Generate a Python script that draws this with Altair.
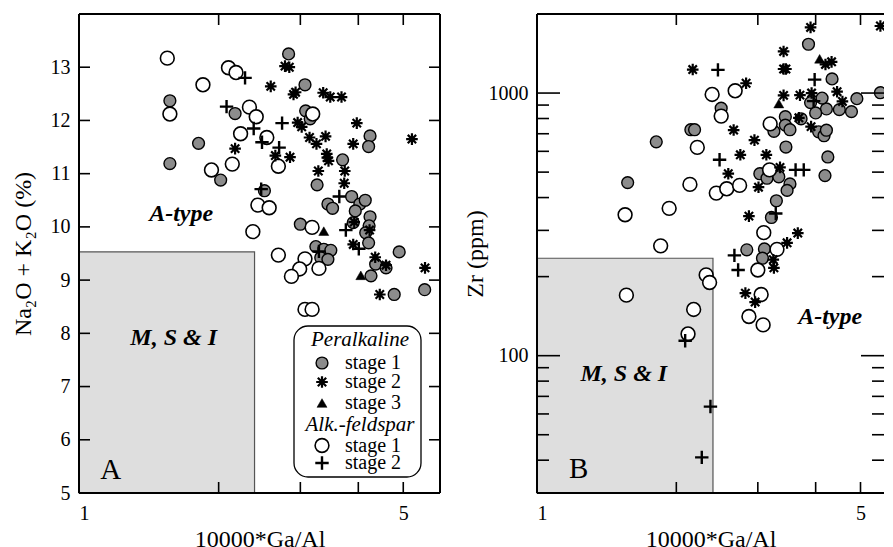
import altair as alt
import pandas as pd

# ---------------- data: panel A (Na2O+K2O vs 10000*Ga/Al) ----------------
a_per1_x = [1.57, 1.57, 1.81, 2.02, 2.17, 2.83, 3.07, 3.08, 3.15, 4.24, 4.21, 3.70, 3.26, 2.51, 3.44, 3.52,
            3.87, 4.03, 4.14, 3.94, 4.24, 4.22, 3.90, 4.15, 4.21, 3.00, 3.24, 3.37, 3.49, 3.32, 3.44, 4.90,
            4.36, 4.59, 4.26, 4.78, 5.56]
a_per1_y = [12.37, 11.19, 11.57, 10.88, 12.13, 13.25, 12.67, 12.18, 12.03, 11.71, 11.51, 11.26, 10.79, 10.68,
            10.43, 10.35, 10.57, 10.43, 10.50, 10.30, 10.19, 10.02, 10.08, 9.89, 9.70, 10.05, 9.63, 9.58, 9.56,
            9.42, 9.39, 9.53, 9.30, 9.23, 9.08, 8.73, 8.82]
a_per2_x = [2.78, 2.84, 2.59, 2.90, 2.93, 3.36, 3.48, 3.68, 3.97, 2.96, 3.02, 3.14, 3.40, 3.25, 3.90, 5.22,
            2.17, 2.65, 2.85, 3.42, 3.45, 3.43, 3.28, 3.74, 3.73, 3.92, 3.90, 4.23, 4.35, 4.59, 5.57, 4.45]
a_per2_y = [13.02, 13.00, 12.64, 12.49, 12.53, 12.52, 12.44, 12.44, 11.95, 11.96, 11.88, 11.68, 11.70, 11.56,
            11.56, 11.65, 11.47, 11.34, 11.31, 11.37, 11.24, 11.30, 11.05, 11.05, 10.82, 10.09, 9.67, 9.94,
            9.43, 9.28, 9.23, 8.73]
a_per3_x = [3.37, 4.05]
a_per3_y = [9.92, 9.09]
a_alk1_x = [1.55, 1.57, 1.85, 2.10, 2.18, 2.33, 2.41, 2.23, 2.54, 2.14, 1.93, 2.69, 3.19, 2.43, 2.57, 2.37,
            3.18, 2.69, 3.07, 2.99, 3.29, 2.87, 3.07, 3.18]
a_alk1_y = [13.17, 12.12, 12.67, 12.99, 12.90, 12.25, 12.07, 11.75, 11.68, 11.18, 11.07, 11.14, 12.12, 10.41,
            10.36, 9.91, 9.99, 9.47, 9.40, 9.21, 9.22, 9.07, 8.45, 8.45]
a_alk2_x = [2.28, 2.08, 2.38, 2.74, 2.48, 2.70, 2.47, 3.64, 3.76, 4.01, 3.29]
a_alk2_y = [12.80, 12.26, 11.85, 11.95, 11.59, 11.49, 10.71, 10.57, 9.94, 9.59, 9.54]

# ---------------- data: panel B (Zr vs 10000*Ga/Al) ----------------
b_per1_x = [3.86, 4.34, 5.52, 4.91, 4.78, 4.50, 4.22, 4.13, 3.90, 4.00, 3.44, 3.44, 3.52, 3.25, 4.06, 4.17,
            4.22, 3.72, 3.45, 4.25, 4.19, 3.03, 3.14, 3.33, 3.52, 3.47, 3.29, 3.21, 2.84, 3.10, 3.07, 2.15,
            2.19, 1.81, 1.57, 2.50]
b_per1_y = [1534, 1132, 1003, 952, 850, 865, 870, 957, 920, 840, 813, 755, 725, 715, 712, 688,
            722, 798, 623, 571, 485, 493, 474, 480, 451, 426, 389, 336, 253, 255, 235, 725,
            725, 652, 456, 876]
b_per2_x = [3.90, 5.52, 3.41, 3.41, 3.45, 2.17, 2.83, 3.41, 3.70, 4.33, 4.20, 4.45, 4.57, 3.91, 3.68, 2.66,
            2.95, 2.75, 3.13, 2.59, 3.01, 3.35, 2.87, 3.66, 3.47, 3.24, 3.25, 2.82, 2.96, 3.92]
b_per2_y = [1778, 1800, 1440, 1235, 1235, 1229, 1090, 980, 982, 1315, 1285, 1012, 929, 745, 805, 723,
            662, 582, 582, 493, 438, 521, 340, 293, 269, 232, 216, 173, 160, 1000]
b_per3_x = [4.08, 3.33]
b_per3_y = [1350, 912]
b_alk1_x = [2.39, 2.68, 2.50, 3.19, 2.22, 2.14, 2.44, 2.57, 2.74, 3.18, 1.55, 1.93, 1.85, 3.09, 3.30, 3.00,
            2.32, 2.36, 1.56, 2.18, 2.12, 3.05, 2.87, 3.08]
b_alk1_y = [988, 1020, 817, 763, 621, 449, 416, 432, 445, 510, 344, 364, 262, 294, 254, 212,
            203, 190, 170, 150, 121, 171, 141, 131]
b_alk2_x = [2.46, 3.98, 3.96, 2.48, 3.62, 3.77, 3.28, 2.67, 2.72, 2.09, 2.37, 2.27]
b_alk2_y = [1225, 1125, 932, 557, 510, 510, 348, 241, 212, 114, 64, 41]

# field boxes (M, S & I): x from 1 to limit, y from axis bottom to limit
box_a = {"x": [1.0], "x2": [2.39], "y": [5.0], "y2": [9.53]}
box_b = {"x": [1.0], "x2": [2.40], "y": [30.0], "y2": [235.0]}

# tick values
x_ticks = [2, 3, 4, 5]
a_y_ticks = [6, 7, 8, 9, 10, 11, 12, 13]
b_y_major = [100, 1000]
b_y_minor = [40, 50, 60, 70, 80, 90, 200, 300, 400, 500, 600, 700, 800, 900]

# annotations
a_notes = {"label": ["A-type", "M, S & I"], "x": [1.66, 1.60], "y": [10.25, 7.91]}
b_notes = {"label": ["M, S & I", "A-type"], "x": [1.54, 4.30], "y": [85.3, 140.0]}

legend_heads = ["Peralkaline", "Alk.-feldspar"]
legend_items = ["stage 1", "stage 2", "stage 3", "stage 1", "stage 2"]

FONT = "Liberation Serif"
WA, WB, H = 361, 347, 479
GRAY = "#8c8c8c"
ASTER = "M-1,0L1,0M0,-1L0,1M-0.72,-0.72L0.72,0.72M-0.72,0.72L0.72,-0.72"
PLUS = "M-1,0L1,0M0,-1L0,1"


def df(xs, ys):
    return pd.DataFrame({"x": xs, "y": ys})


def sym(kind):
    if kind == "p1":
        return dict(shape="circle", filled=True, fill=GRAY, stroke="black", strokeWidth=1.4, size=140, opacity=1)
    if kind == "p2":
        return dict(shape=ASTER, filled=False, stroke="black", strokeWidth=2.2, size=135, opacity=1)
    if kind == "p3":
        return dict(shape="triangle-up", filled=True, fill="black", stroke="black", strokeWidth=0.5, size=100, opacity=1)
    if kind == "a1":
        return dict(shape="circle", filled=True, fill="white", stroke="black", strokeWidth=1.6, size=190, opacity=1)
    return dict(shape=PLUS, filled=False, stroke="black", strokeWidth=2.4, size=180, opacity=1)


def panel(X, Y, W, series, box, notes, letter, letter_xy, yticks_major, yticks_minor, major_len, minor_len,
          legend, right_border):
    one = pd.DataFrame({"t": [0]})
    layers = []
    layers.append(alt.Chart(pd.DataFrame(box)).mark_rect(fill="#dedede", stroke="#555555", strokeWidth=1.2)
                  .encode(x=X, x2="x2:Q", y=Y, y2="y2:Q"))
    for kind, xs, ys in series:
        layers.append(alt.Chart(df(xs, ys)).mark_point(clip=True, **sym(kind)).encode(x=X, y=Y))
    layers.append(alt.Chart(pd.DataFrame(notes)).mark_text(font=FONT, fontSize=24, fontWeight="bold",
                                                          fontStyle="italic", baseline="middle")
                  .encode(x=X, y=Y, text="label:N"))
    layers.append(alt.Chart(pd.DataFrame({"label": [letter], "x": [letter_xy[0]], "y": [letter_xy[1]]}))
                  .mark_text(font=FONT, fontSize=29, baseline="middle").encode(x=X, y=Y, text="label:N"))
    rule = dict(color="black", strokeWidth=1.6)
    xt = pd.DataFrame({"x": x_ticks})
    layers.append(alt.Chart(xt).mark_rule(**rule).encode(x=X, y=alt.value(H), y2=alt.value(H - 11)))
    layers.append(alt.Chart(xt).mark_rule(**rule).encode(x=X, y=alt.value(0), y2=alt.value(11)))
    for vals, ln in ((yticks_major, major_len), (yticks_minor, minor_len)):
        if not vals:
            continue
        yt = pd.DataFrame({"y": vals})
        layers.append(alt.Chart(yt).mark_rule(**rule).encode(y=Y, x=alt.value(0), x2=alt.value(ln)))
        layers.append(alt.Chart(yt).mark_rule(**rule).encode(y=Y, x=alt.value(W), x2=alt.value(W - ln)))
    # plot frame
    frame = dict(color="black", strokeWidth=2)
    layers.append(alt.Chart(one).mark_rule(**frame).encode(x=alt.value(0), x2=alt.value(W), y=alt.value(0)))
    layers.append(alt.Chart(one).mark_rule(**frame).encode(x=alt.value(0), x2=alt.value(W), y=alt.value(H)))
    layers.append(alt.Chart(one).mark_rule(**frame).encode(x=alt.value(0), y=alt.value(0), y2=alt.value(H)))
    if right_border:
        layers.append(alt.Chart(one).mark_rule(**frame).encode(x=alt.value(W), y=alt.value(0), y2=alt.value(H)))
    if legend:
        layers.append(alt.Chart(one).mark_rect(fill="white", stroke="black", strokeWidth=1.3, cornerRadius=14)
                      .encode(x=alt.value(215), x2=alt.value(342), y=alt.value(312), y2=alt.value(463)))
        for head, yy in zip(legend_heads, [325.5, 410.5]):
            layers.append(alt.Chart(pd.DataFrame({"t": [head]})).mark_text(
                font=FONT, fontSize=21, fontStyle="italic", baseline="middle", align="center")
                .encode(text="t:N", x=alt.value(281), y=alt.value(yy)))
        for item, kind, yy in zip(legend_items, ["p1", "p2", "p3", "a1", "a2"],
                                  [349, 368, 389, 431.5, 449]):
            layers.append(alt.Chart(one).mark_point(**sym(kind)).encode(x=alt.value(243), y=alt.value(yy)))
            layers.append(alt.Chart(pd.DataFrame({"t": [item]})).mark_text(
                font=FONT, fontSize=20, baseline="middle", align="left")
                .encode(text="t:N", x=alt.value(266), y=alt.value(yy)))
    return alt.layer(*layers).properties(width=W, height=H)


ax_common = dict(ticks=False, domain=False, grid=False, labelFont=FONT, labelFontSize=20, labelColor="black",
                 titleFont=FONT, titleFontSize=24, titleFontWeight="normal", titleColor="black")

XA = alt.X("x:Q", scale=alt.Scale(type="log", domain=[1, 6], nice=False),
           axis=alt.Axis(values=[1, 5], format="~g", labelPadding=10, titlePadding=4, **ax_common),
           title="10000*Ga/Al")
YA = alt.Y("y:Q", scale=alt.Scale(domain=[5, 14], nice=False, zero=False),
           axis=alt.Axis(values=list(range(5, 14)), labelPadding=9, titlePadding=15, **ax_common),
           title="Na₂O + K₂O (%)")
XB = alt.X("x:Q", scale=alt.Scale(type="log", domain=[1, 5.62], nice=False),
           axis=alt.Axis(values=[1, 5], format="~g", labelPadding=10, titlePadding=4, **ax_common),
           title="10000*Ga/Al")
YB = alt.Y("y:Q", scale=alt.Scale(type="log", domain=[30, 2000], nice=False),
           axis=alt.Axis(values=[100, 1000], format="d", labelPadding=9, titlePadding=1, **ax_common),
           title="Zr (ppm)")

left = panel(XA, YA, WA,
             [("p1", a_per1_x, a_per1_y), ("a1", a_alk1_x, a_alk1_y), ("p2", a_per2_x, a_per2_y),
              ("p3", a_per3_x, a_per3_y), ("a2", a_alk2_x, a_alk2_y)],
             box_a, a_notes, "A", (1.17, 5.44), a_y_ticks, [], 11, 11, True, True)
right = panel(XB, YB, WB,
              [("p1", b_per1_x, b_per1_y), ("a1", b_alk1_x, b_alk1_y), ("p2", b_per2_x, b_per2_y),
               ("p3", b_per3_x, b_per3_y), ("a2", b_alk2_x, b_alk2_y)],
              box_b, b_notes, "B", (1.23, 37.1), b_y_major, b_y_minor, 23, 12, False, False)

chart = alt.hconcat(left, right, spacing=22).properties(
    padding={"left": 3, "top": 5, "right": 0, "bottom": 0}
).configure(background="white").configure_view(strokeWidth=0)

chart.save("out.html", embed_options={"renderer": "svg", "actions": False})
